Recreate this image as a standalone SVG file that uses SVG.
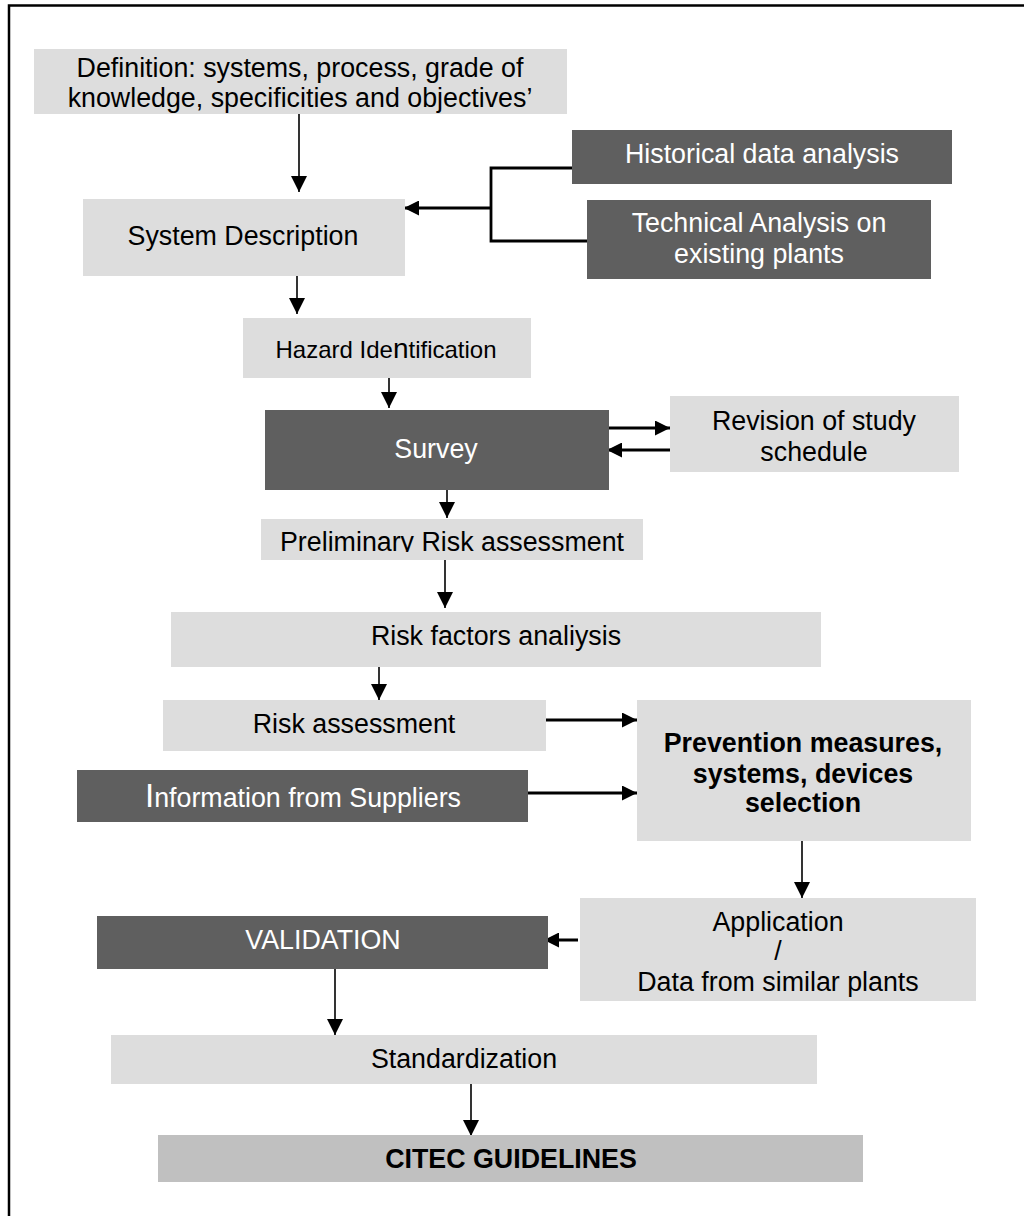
<svg xmlns="http://www.w3.org/2000/svg" width="1024" height="1216" viewBox="0 0 1024 1216">
<style>
.lt{fill:#dddddd}
.dk{fill:#5f5f5f}
.cg{fill:#c0c0c0}
text{font-family:"Liberation Sans",Arial,sans-serif;font-size:26.8px;text-anchor:middle}
.b{fill:#000}
.w{fill:#fff}
.bold{font-weight:bold}
.c{stroke:#000;fill:none}
.v{stroke-width:1.6}
.h{stroke-width:2.8}
</style>
<defs>
<marker id="ah" markerUnits="userSpaceOnUse" markerWidth="16" markerHeight="16" refX="16" refY="8" orient="auto">
<path d="M0,0 L16,8 L0,16 z" fill="#000"/>
</marker>
<marker id="ahh" markerUnits="userSpaceOnUse" markerWidth="15" markerHeight="15" refX="15" refY="7.5" orient="auto">
<path d="M0,0 L15,7.5 L0,15 z" fill="#000"/>
</marker>
<clipPath id="prclip"><rect x="261" y="519" width="382" height="33"/></clipPath>
</defs>
<rect x="9" y="5.5" width="1030" height="1230" fill="#fff" stroke="#000" stroke-width="2.5"/>

<g id="connectors">
<line class="c v" x1="299" y1="114" x2="299" y2="192" marker-end="url(#ah)"/>
<polyline class="c h" points="572,168 491,168 491,241 587,241"/>
<line class="c h" x1="491" y1="208" x2="404" y2="208" marker-end="url(#ahh)"/>
<line class="c v" x1="297" y1="276" x2="297" y2="314" marker-end="url(#ah)"/>
<line class="c v" x1="389" y1="378" x2="389" y2="408" marker-end="url(#ah)"/>
<line class="c h" x1="609" y1="428" x2="670" y2="428" marker-end="url(#ahh)"/>
<line class="c h" x1="670" y1="450" x2="607" y2="450" marker-end="url(#ahh)"/>
<line class="c v" x1="447" y1="490" x2="447" y2="518" marker-end="url(#ah)"/>
<line class="c v" x1="445" y1="560" x2="445" y2="608" marker-end="url(#ah)"/>
<line class="c v" x1="379" y1="667" x2="379" y2="700" marker-end="url(#ah)"/>
<line class="c h" x1="543" y1="720" x2="637" y2="720" marker-end="url(#ahh)"/>
<line class="c h" x1="528" y1="793" x2="637" y2="793" marker-end="url(#ahh)"/>
<line class="c v" x1="802" y1="841" x2="802" y2="898" marker-end="url(#ah)"/>
<line class="c h" x1="578" y1="940" x2="544" y2="940" marker-end="url(#ahh)"/>
<line class="c v" x1="335" y1="969" x2="335" y2="1035" marker-end="url(#ah)"/>
<line class="c v" x1="471" y1="1084" x2="471" y2="1136" marker-end="url(#ah)"/>
</g>

<g id="definition">
<rect class="lt" x="34" y="49" width="533" height="65"/>
<text class="b" x="300" y="76.5">Definition: systems, process, grade of</text>
<text class="b" x="300" y="106.5">knowledge, specificities and objectives’</text>
</g>
<g id="historical">
<rect class="dk" x="572" y="130" width="380" height="54"/>
<text class="w" x="762" y="162.5">Historical data analysis</text>
</g>
<g id="technical">
<rect class="dk" x="587" y="200" width="344" height="79"/>
<text class="w" x="759" y="231.5">Technical Analysis on</text>
<text class="w" x="759" y="262.5">existing plants</text>
</g>
<g id="system">
<rect class="lt" x="83" y="199" width="322" height="77"/>
<text class="b" x="243" y="244.5">System Description</text>
</g>
<g id="hazard">
<rect class="lt" x="243" y="318" width="288" height="60"/>
<text class="b" x="386" y="357.6" style="font-size:24px">Hazard Ide<tspan style="font-size:28px">n</tspan>tification</text>
</g>
<g id="survey">
<rect class="dk" x="265" y="410" width="344" height="80"/>
<text class="w" x="436" y="457.5">Survey</text>
</g>
<g id="revision">
<rect class="lt" x="670" y="396" width="289" height="76"/>
<text class="b" x="814" y="429.5">Revision of study</text>
<text class="b" x="814" y="460.5">schedule</text>
</g>
<g id="preliminary">
<rect class="lt" x="261" y="519" width="382" height="41"/>
<text class="b" x="452" y="551" clip-path="url(#prclip)">Preliminary Risk assessment</text>
</g>
<g id="riskfactors">
<rect class="lt" x="171" y="612" width="650" height="55"/>
<text class="b" x="496" y="644.5">Risk factors analiysis</text>
</g>
<g id="riskassessment">
<rect class="lt" x="163" y="700" width="383" height="51"/>
<text class="b" x="354" y="732.5">Risk assessment</text>
</g>
<g id="information">
<rect class="dk" x="77" y="770" width="451" height="52"/>
<text class="w" x="303" y="806.5"><tspan style="font-size:33px">I</tspan>nformation from Suppliers</text>
</g>
<g id="prevention">
<rect class="lt" x="637" y="700" width="334" height="141"/>
<text class="b bold" x="803" y="751.5">Prevention measures,</text>
<text class="b bold" x="803" y="782.5">systems, devices</text>
<text class="b bold" x="803" y="811.5">selection</text>
</g>
<g id="validation">
<rect class="dk" x="97" y="916" width="451" height="53"/>
<text class="w" x="323" y="948.5">VALIDATION</text>
</g>
<g id="application">
<rect class="lt" x="580" y="898" width="396" height="103"/>
<text class="b" x="778" y="930.5">Application</text>
<text class="b" x="778" y="959.5">/</text>
<text class="b" x="778" y="990.5">Data from similar plants</text>
</g>
<g id="standardization">
<rect class="lt" x="111" y="1035" width="706" height="49"/>
<text class="b" x="464" y="1067.5">Standardization</text>
</g>
<g id="citec">
<rect class="cg" x="158" y="1135" width="705" height="47"/>
<text class="b bold" x="511" y="1167.5">CITEC GUIDELINES</text>
</g>
</svg>
